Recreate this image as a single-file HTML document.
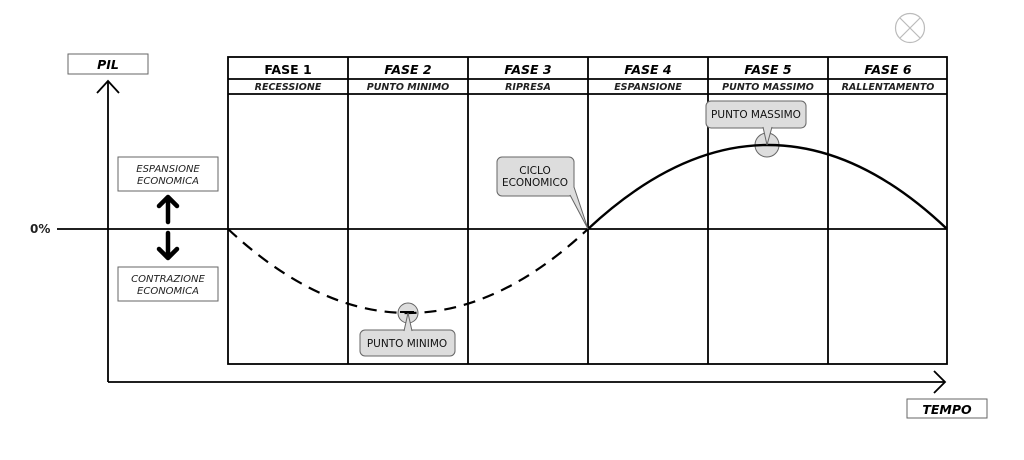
<!DOCTYPE html><html><head><style>body{margin:0;background:#fff}svg text{font-family:"DejaVu Sans","Liberation Sans",sans-serif}</style></head><body>
<svg width="1024" height="455" viewBox="0 0 1024 455" xmlns="http://www.w3.org/2000/svg">
<circle cx="910" cy="28" r="14.5" fill="none" stroke="#bbb" stroke-width="1.2"/>
<path d="M900 18L920 38M920 18L900 38" stroke="#bbb" stroke-width="1.2"/>
<g fill="#ddd" stroke="#666" stroke-width="1">
<circle cx="408" cy="313" r="10"/><circle cx="767" cy="145" r="12"/>
</g>
<g fill="none" stroke="#000" stroke-width="1.8">
<rect x="228" y="57" width="719" height="307"/>
<line x1="228" y1="79" x2="947" y2="79"/><line x1="228" y1="94" x2="947" y2="94"/>
<line x1="348" y1="57" x2="348" y2="364"/><line x1="468" y1="57" x2="468" y2="364"/><line x1="588" y1="57" x2="588" y2="364"/><line x1="708" y1="57" x2="708" y2="364"/><line x1="828" y1="57" x2="828" y2="364"/>
<line x1="57" y1="229" x2="947" y2="229"/>
<line x1="108" y1="81" x2="108" y2="382"/><path d="M97 93L108 81L119 93" />
<line x1="108" y1="382" x2="945" y2="382"/><path d="M934 371L945 382L934 393"/>
<path d="M228 229 C288 285 348 313 408 313 C468 313 528 285 588 229" stroke-dasharray="12 8" stroke-width="2.2"/>
<path d="M588 229 C648 173 708 145 768 145 C828 145 888 173 947 229" stroke-width="2.4"/>
</g>
<g fill="#fff" stroke="#666" stroke-width="1"><rect x="68" y="54" width="80" height="20"/><rect x="907" y="399" width="80" height="19"/><rect x="118" y="157" width="100" height="34"/><rect x="118" y="267" width="100" height="34"/></g>
<g stroke="#000" stroke-width="4.5" fill="none" stroke-linecap="round" stroke-linejoin="round"><path d="M168 222V198M159 206L168 197L177 206"/><path d="M168 233V257M159 249L168 258L177 249"/></g>
<g fill="#ddd" stroke="#666" stroke-width="1">
<rect x="360" y="330" width="95" height="26" rx="5"/><path d="M404 331L408 313L412 331" />
<rect x="706" y="101" width="100" height="27" rx="5"/><path d="M763 127L767 145L772 127"/>
<rect x="497" y="157" width="77" height="39" rx="5"/><path d="M570 195L588 229L574 187"/>
</g>
<line x1="400" y1="312" x2="414" y2="312" stroke="#000" stroke-width="2"/>
<g font-size="12.5" font-weight="bold" font-style="italic" text-anchor="middle">
<text x="108" y="69">PIL</text><text x="947" y="414">TEMPO</text>
<text x="288" y="74" font-style="normal">FASE 1</text><text x="408" y="74">FASE 2</text><text x="528" y="74">FASE 3</text><text x="648" y="74">FASE 4</text><text x="768" y="74">FASE 5</text><text x="888" y="74">FASE 6</text>
</g>
<g font-size="9.5" font-weight="bold" font-style="italic" text-anchor="middle" fill="#222">
<text x="288" y="90">RECESSIONE</text><text x="408" y="90">PUNTO MINIMO</text><text x="528" y="90">RIPRESA</text><text x="648" y="90">ESPANSIONE</text><text x="768" y="90">PUNTO MASSIMO</text><text x="888" y="90">RALLENTAMENTO</text>
</g>
<g font-size="10" font-style="italic" text-anchor="middle" fill="#222">
<text x="168" y="172">ESPANSIONE</text><text x="168" y="184">ECONOMICA</text>
<text x="168" y="282">CONTRAZIONE</text><text x="168" y="294">ECONOMICA</text>
</g>
<g font-size="10.5" text-anchor="middle" fill="#111">
<text x="407" y="347">PUNTO MINIMO</text><text x="756" y="118">PUNTO MASSIMO</text>
<text x="535" y="174">CICLO</text><text x="535" y="186">ECONOMICO</text>
</g>
<text x="30" y="233" font-size="12" font-weight="bold" fill="#222">0%</text>
</svg></body></html>
